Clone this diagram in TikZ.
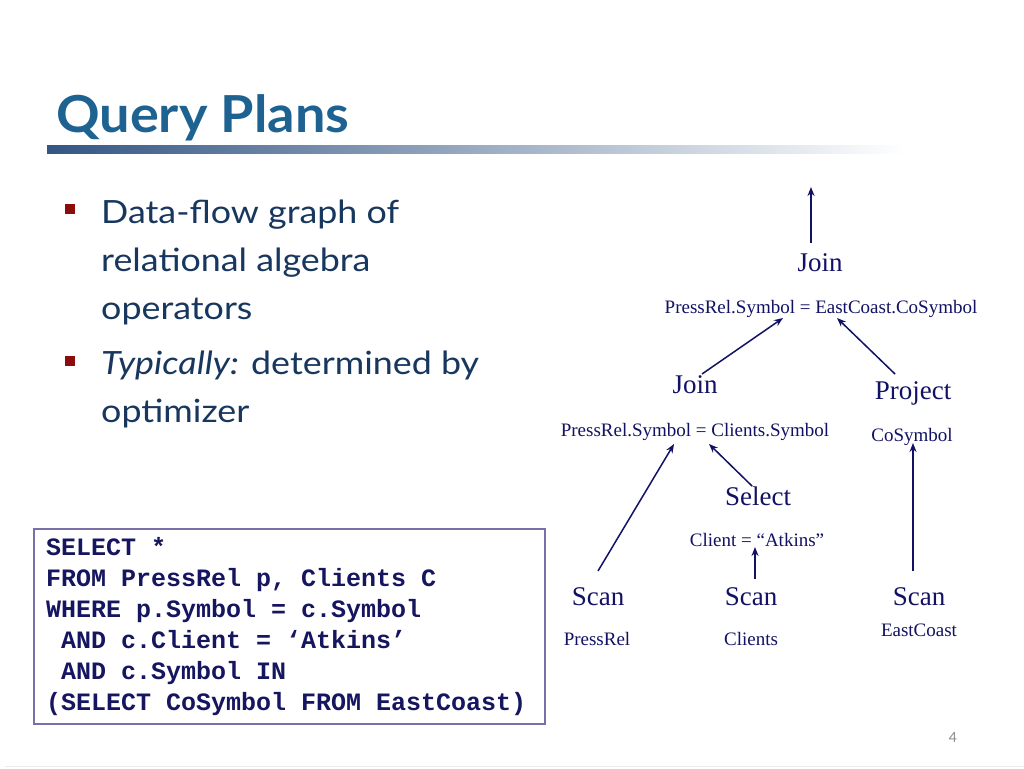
\documentclass[tikz,border=0pt]{standalone}
\usepackage{fontspec}
\setmainfont{Liberation Serif}
\newfontfamily\gillfont[FakeStretch=1.12]{Lato}
\newfontfamily\gilltitle[FakeStretch=1.06]{Lato}
\newfontfamily\gillnum{Lato}
\newfontfamily\monofont{Liberation Mono}
\usetikzlibrary{arrows.meta}
\definecolor{titleblue}{RGB}{30,98,146}
\definecolor{bulletnavy}{RGB}{24,55,94}
\definecolor{bulletred}{RGB}{140,12,12}
\definecolor{treenavy}{RGB}{18,18,100}
\definecolor{sqlnavy}{RGB}{22,22,96}
\definecolor{boxpurple}{RGB}{122,112,168}
\definecolor{ruleblue}{RGB}{52,86,132}
\tikzset{
  bigop/.style={anchor=base, inner sep=0pt, text=treenavy, font=\fontsize{27}{27}\selectfont},
  smalllab/.style={anchor=base, inner sep=0pt, text=treenavy, font=\fontsize{19}{19}\selectfont},
  flow/.style={draw=treenavy, line width=1.5pt, -{Stealth[length=9pt,width=7pt]}},
  bullettext/.style={anchor=base west, inner sep=0pt, text=bulletnavy, font=\gillfont\fontsize{32}{32}\selectfont},
  bulletsq/.style={fill=bulletred, draw=none, minimum size=10.5pt, inner sep=0pt},
  sqlline/.style={anchor=base west, inner sep=0pt, text=sqlnavy, font=\monofont\bfseries\fontsize{25}{25}\selectfont}
}
\begin{document}
\begin{tikzpicture}[x=1pt,y=-1pt]
\useasboundingbox (0,0) rectangle (1024,768);
\fill[white] (0,0) rectangle (1024,768);
% title
\node[anchor=base west, inner sep=0pt, text=titleblue, font=\gilltitle\bfseries\fontsize{51}{51}\selectfont] (title) at (56,132) {Query Plans};
\shade[left color=ruleblue, right color=white] (47,145) rectangle (905,153);
% bullets
\node[bulletsq] (b1) at (70,209) {};
\node[bullettext] (t1) at (101,223) {Data-flow graph of};
\node[bullettext] (t2) at (101,271) {relational algebra};
\node[bullettext] (t3) at (101,319) {operators};
\node[bulletsq] (b2) at (70,361) {};
\node[bullettext] (t4) at (101,374) {\itshape Typically:\upshape{} determined by};
\node[bullettext] (t5) at (101,422) {optimizer};
% SQL box
\draw[boxpurple, line width=1.8pt] (34,529) rectangle (545,724);
\node[sqlline] (q1) at (46,555) {SELECT *};
\node[sqlline] (q2) at (46,586) {FROM PressRel p, Clients C};
\node[sqlline] (q3) at (46,617) {WHERE p.Symbol = c.Symbol};
\node[sqlline] (q4) at (46,648) {\ AND c.Client = ‘Atkins’};
\node[sqlline] (q5) at (46,679) {\ AND c.Symbol IN};
\node[sqlline] (q6) at (46,710) {(SELECT CoSymbol FROM EastCoast)};
% tree nodes
\node[bigop] (join1) at (820,271) {Join};
\node[smalllab] (cond1) at (821,313) {PressRel.Symbol = EastCoast.CoSymbol};
\node[bigop] (join2) at (695,393) {Join};
\node[smalllab] (cond2) at (695,436) {PressRel.Symbol = Clients.Symbol};
\node[bigop] (proj) at (913,399) {Project};
\node[smalllab] (projlab) at (912,441) {CoSymbol};
\node[bigop] (sel) at (758,505) {Select};
\node[smalllab] (sellab) at (757,546) {Client = “Atkins”};
\node[bigop] (scan1) at (598,605) {Scan};
\node[smalllab] (scan1lab) at (597,645) {PressRel};
\node[bigop] (scan2) at (751,605) {Scan};
\node[smalllab] (scan2lab) at (751,645) {Clients};
\node[bigop] (scan3) at (919,605) {Scan};
\node[smalllab] (scan3lab) at (919,636) {EastCoast};
% arrow end points
\coordinate (outS) at (811,243);
\coordinate (outE) at (811,187);
\coordinate (j2S) at (702,374);
\coordinate (c1L) at (783,318);
\coordinate (prS) at (895,374);
\coordinate (c1R) at (837,318);
\coordinate (s1S) at (598,571);
\coordinate (c2L) at (674,444);
\coordinate (selS) at (752,486);
\coordinate (c2R) at (709,444);
\coordinate (s2S) at (755,579);
\coordinate (slE) at (755,547);
\coordinate (s3S) at (913,571);
\coordinate (plE) at (913,443);
\draw[flow] (outS) -- (outE);
\draw[flow] (j2S) -- (c1L);
\draw[flow] (prS) -- (c1R);
\draw[flow] (s1S) -- (c2L);
\draw[flow] (selS) -- (c2R);
\draw[flow] (s2S) -- (slE);
\draw[flow] (s3S) -- (plE);
% page number and footer line
\node[anchor=base, inner sep=0pt, text=black!45, font=\gillnum\fontsize{14}{14}\selectfont] (pnum) at (953,742) {4};
\draw[black!8, line width=1.5pt] (5,766.5) -- (1024,766.5);
\end{tikzpicture}
\end{document}
